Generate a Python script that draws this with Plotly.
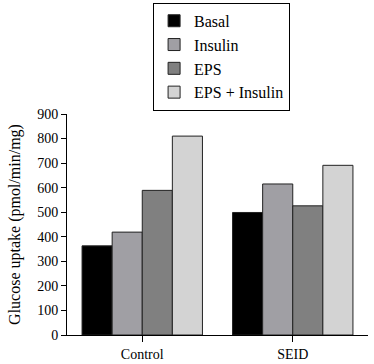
import plotly.graph_objects as go

categories = ["Control", "SEID"]
series_names = ["Basal", "Insulin", "EPS", "EPS + Insulin"]
basal = [363, 499]
insulin = [419, 615]
eps = [589, 526]
eps_insulin = [810, 691]
colors = ["#000000", "#a09fa4", "#808080", "#d3d3d3"]
y_ticks = [0, 100, 200, 300, 400, 500, 600, 700, 800, 900]

fig = go.Figure()
for i, (name, vals) in enumerate(zip(series_names, [basal, insulin, eps, eps_insulin])):
    fig.add_trace(go.Bar(
        x=categories, y=vals, name=name,
        marker=dict(color=colors[i], line=dict(color="#222222", width=1)),
        legendgroup=name,
    ))

font_family = "Liberation Serif, Times New Roman, serif"
fig.update_layout(
    width=374, height=364,
    margin=dict(l=67, r=6, t=114, b=29, autoexpand=False),
    paper_bgcolor="white", plot_bgcolor="white",
    barmode="group", bargap=0.2, bargroupgap=0,
    font=dict(family=font_family, size=12, color="black"),
    showlegend=True,
    legend=dict(
        x=0.286, y=1.503, xanchor="left", yanchor="top",
        bordercolor="black", borderwidth=1,
        font=dict(family=font_family, size=16, color="black"),
        traceorder="grouped", tracegroupgap=0,
        itemwidth=30,
    ),
    xaxis=dict(
        range=[-0.5, 1.5], showline=True, linecolor="black", linewidth=1,
        ticks="outside", ticklen=6, tickcolor="black",
        tickfont=dict(family=font_family, size=14),
        showgrid=False, zeroline=False, automargin=False,
    ),
    yaxis=dict(
        range=[0, 900], tickvals=y_ticks, showline=True, linecolor="black", linewidth=1,
        ticks="outside", ticklen=5, tickcolor="black",
        tickfont=dict(family=font_family, size=14),
        showgrid=False, zeroline=False, automargin=False,
        title=dict(text="Glucose uptake (pmol/min/mg)", font=dict(family=font_family, size=16), standoff=12),
    ),
)

fig.write_html("out.html", config={"displayModeBar": False},
               post_script="document.body.style.margin='0';")
